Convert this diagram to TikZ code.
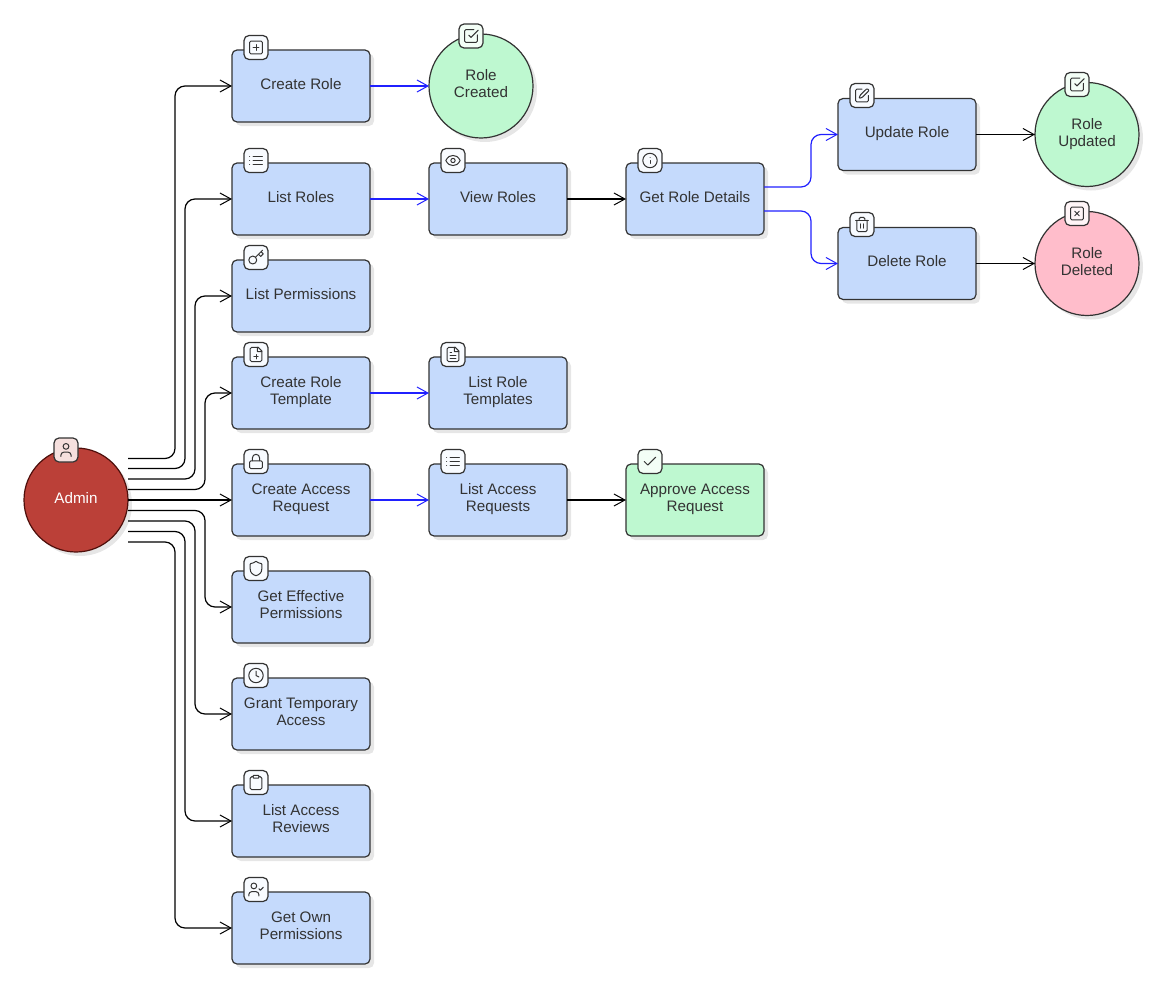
\documentclass[tikz,border=0pt]{standalone}
\usepackage{fontspec}
\setmainfont{Liberation Sans}
\usetikzlibrary{arrows.meta,shadows,calc}
\definecolor{ink}{HTML}{333333}
\definecolor{boxblue}{HTML}{C5DAFC}
\definecolor{okgreen}{HTML}{BEF8D0}
\definecolor{badpink}{HTML}{FFBDCB}
\definecolor{adminred}{HTML}{BB4038}
\definecolor{adminedge}{HTML}{4E0F0B}
\definecolor{flowblue}{HTML}{2020FF}
\definecolor{shadowgrey}{HTML}{E6E6E6}
\newcommand\lbl[1]{\raisebox{1.5pt}{\begin{tabular}{@{}c@{}}#1\end{tabular}}}
\tikzset{
  softshadow/.style={drop shadow={shadow xshift=4pt,shadow yshift=-4pt,fill=shadowgrey,opacity=1}},
  stepbox/.style={rectangle,rounded corners=5pt,draw=ink,line width=1.2pt,fill=boxblue,text=ink,minimum width=138pt,minimum height=72pt,inner sep=0pt,outer sep=0pt,softshadow,font=\fontsize{15.2}{17}\selectfont},
  okbox/.style={stepbox,fill=okgreen},
  endcircle/.style={circle,draw=ink,line width=1.2pt,text=ink,minimum size=104pt,inner sep=0pt,outer sep=0pt,softshadow,font=\fontsize{15.2}{17}\selectfont},
  admincircle/.style={endcircle,fill=adminred,draw=adminedge,text=white},
  flow/.style={draw=black,line width=1.2pt,rounded corners=10pt,-{Straight Barb[length=11pt,width=12pt,line width=1pt]}},
  blueflow/.style={flow,draw=flowblue},
  badge/.style={rectangle,rounded corners=5pt,draw=ink,line width=1.2pt,minimum size=24pt,inner sep=0pt,outer sep=0pt},
  iconline/.style={draw=ink,line width=1pt,line cap=round,line join=round,fill=none},
}
\newcommand\icn[2]{\begin{scope}[shift={(#1)},x=.72pt,y=-.72pt,shift={(-12,-12)},iconline]#2\end{scope}}
\newcommand\rr[5]{\draw[rounded corners=#5*.72pt] (#1,#2) rectangle (#3,#4);}
\newcommand\icsqplus{\rr{3}{3}{21}{21}{2}\draw (8,12)--(16,12) (12,8)--(12,16);}
\newcommand\iclist{\draw (8,6)--(21,6) (8,12)--(21,12) (8,18)--(21,18) (3,6)--(3.01,6) (3,12)--(3.01,12) (3,18)--(3.01,18);}
\newcommand\ickey{\draw (7.5,15.5) circle[radius=5.5]; \draw (21,2)--(11.4,11.6) (15.5,7.5)--(18.5,10.5)--(22,7)--(19,4);}
\newcommand\icfile{\draw[rounded corners=1.44pt] (15,2)--(4,2)--(4,22)--(20,22)--(20,7); \draw (15,2)--(20,7) (14,2)--(14,8)--(20,8);}
\newcommand\icfileplus{\icfile\draw (9,15)--(15,15) (12,18)--(12,12);}
\newcommand\icfiletext{\icfile\draw (10,9)--(8,9) (16,13)--(8,13) (16,17)--(8,17);}
\newcommand\iclock{\rr{3}{11}{21}{22}{2}\draw (7,11)--(7,7) arc[start angle=180,end angle=360,radius=5]--(17,11);}
\newcommand\icshield{\draw (20,13) .. controls (20,18) and (16.5,20.5) .. (12,22) .. controls (7.5,20.5) and (4,18) .. (4,13) -- (4,6) .. controls (4,5.4) and (4.4,5) .. (5,5) .. controls (7,5) and (9.5,3.8) .. (12,2) .. controls (14.5,3.8) and (17,5) .. (19,5) .. controls (19.6,5) and (20,5.4) .. (20,6) -- cycle;}
\newcommand\icclock{\draw (12,12) circle[radius=10]; \draw (12,6)--(12,12)--(16,14);}
\newcommand\icclip{\rr{8}{2}{16}{6}{1}\draw[rounded corners=1.44pt] (16,4)--(20,4)--(20,22)--(4,22)--(4,4)--(8,4);}
\newcommand\icusercheck{\draw (16,21)--(16,19) arc[start angle=0,end angle=-90,radius=4]--(6,15) arc[start angle=-90,end angle=-180,radius=4]--(2,21); \draw (9,7) circle[radius=4]; \draw (16,11)--(18,13)--(22,9);}
\newcommand\iceye{\draw (2,12) .. controls (5,6.5) and (8,5) .. (12,5) .. controls (16,5) and (19,6.5) .. (22,12) .. controls (19,17.5) and (16,19) .. (12,19) .. controls (8,19) and (5,17.5) .. (2,12) -- cycle; \draw (12,12) circle[radius=3];}
\newcommand\icinfo{\draw (12,12) circle[radius=10]; \draw (12,16)--(12,12) (12,8)--(12.01,8);}
\newcommand\icpen{\draw[rounded corners=1.44pt] (12,3)--(3,3)--(3,21)--(21,21)--(21,12); \draw[rounded corners=.8pt] (19,2.2)--(21.8,5)--(12.4,14.6)--(8,16)--(9.4,11.6)--cycle;}
\newcommand\ictrash{\draw (3,6)--(21,6); \draw[rounded corners=1.44pt] (19,6)--(19,22)--(5,22)--(5,6); \draw[rounded corners=1.44pt] (8,6)--(8,2)--(16,2)--(16,6); \draw (10,11)--(10,17) (14,11)--(14,17);}
\newcommand\icsqcheck{\draw[rounded corners=1.44pt] (21,10.5)--(21,21)--(3,21)--(3,3)--(16,3); \draw (9,11)--(12,14)--(22,4);}
\newcommand\icsqx{\rr{3}{3}{21}{21}{2}\draw (15,9)--(9,15) (9,9)--(15,15);}
\newcommand\iccheck{\draw (20,6)--(9,17)--(4,12);}
\newcommand\icuser{\draw (19,21)--(19,19) arc[start angle=0,end angle=-90,radius=4]--(9,15) arc[start angle=-90,end angle=-180,radius=4]--(5,21); \draw (12,7) circle[radius=4];}
\begin{document}
\begin{tikzpicture}[x=1pt,y=-1pt]
\useasboundingbox (0,0) rectangle (1165,982);
% nodes
\node[admincircle] (admin) at (76,500) {\lbl{Admin}};
\node[stepbox] (createrole) at (301,86) {\lbl{Create Role}};
\node[endcircle,fill=okgreen] (rolecreated) at (481,86) {\lbl{Role\\Created}};
\node[stepbox] (listroles) at (301,199) {\lbl{List Roles}};
\node[stepbox] (viewroles) at (498,199) {\lbl{View Roles}};
\node[stepbox] (details) at (695,199) {\lbl{Get Role Details}};
\node[stepbox] (update) at (907,134.5) {\lbl{Update Role}};
\node[stepbox] (delete) at (907,263.5) {\lbl{Delete Role}};
\node[endcircle,fill=okgreen] (updated) at (1087,134.5) {\lbl{Role\\Updated}};
\node[endcircle,fill=badpink] (deleted) at (1087,263.5) {\lbl{Role\\Deleted}};
\node[stepbox] (listperms) at (301,296) {\lbl{List Permissions}};
\node[stepbox] (template) at (301,393) {\lbl{Create Role\\Template}};
\node[stepbox] (listtemplates) at (498,393) {\lbl{List Role\\Templates}};
\node[stepbox] (accessreq) at (301,500) {\lbl{Create Access\\Request}};
\node[stepbox] (listreq) at (498,500) {\lbl{List Access\\Requests}};
\node[okbox] (approve) at (695,500) {\lbl{Approve Access\\Request}};
\node[stepbox] (effective) at (301,607) {\lbl{Get Effective\\Permissions}};
\node[stepbox] (temporary) at (301,714) {\lbl{Grant Temporary\\Access}};
\node[stepbox] (reviews) at (301,821) {\lbl{List Access\\Reviews}};
\node[stepbox] (ownperms) at (301,928) {\lbl{Get Own\\Permissions}};
% connectors from Admin
\draw[flow] ([yshift=41.5pt]admin.east) -| (175,300) |- (createrole.west);
\draw[flow] ([yshift=31.5pt]admin.east) -| (185,300) |- (listroles.west);
\draw[flow] ([yshift=21pt]admin.east) -| (195,400) |- (listperms.west);
\draw[flow] ([yshift=10.5pt]admin.east) -| (205,440) |- (template.west);
\draw[flow] (admin.east) -- (accessreq.west);
\draw[flow] ([yshift=-10.5pt]admin.east) -| (205,560) |- (effective.west);
\draw[flow] ([yshift=-21pt]admin.east) -| (195,620) |- (temporary.west);
\draw[flow] ([yshift=-31.5pt]admin.east) -| (185,680) |- (reviews.west);
\draw[flow] ([yshift=-42pt]admin.east) -| (175,740) |- (ownperms.west);
% other connectors
\draw[blueflow] (createrole) -- (rolecreated);
\draw[blueflow] (listroles) -- (viewroles);
\draw[flow] (viewroles) -- (details);
\draw[blueflow] ([yshift=12pt]details.east) -| (811,160) |- (update.west);
\draw[blueflow] ([yshift=-12pt]details.east) -| (811,240) |- (delete.west);
\draw[flow] (update) -- (updated);
\draw[flow] (delete) -- (deleted);
\draw[blueflow] (template) -- (listtemplates);
\draw[blueflow] (accessreq) -- (listreq);
\draw[flow] (listreq) -- (approve);
% icon badges
\tikzset{bb/.style={badge,fill=#1},bb/.default={bbadge}}
\definecolor{bbadge}{HTML}{F8FBFF}
\definecolor{gbadge}{HTML}{F3FEF6}
\definecolor{pbadge}{HTML}{FFF5F7}
\definecolor{rbadge}{HTML}{F6E0DE}
\node[bb=rbadge] (b0) at (66,450) {}; \icn{b0}{\icuser}
\node[bb] (b1) at (256,47.5) {}; \icn{b1}{\icsqplus}
\node[bb=gbadge] (b2) at (471,36) {}; \icn{b2}{\icsqcheck}
\node[bb] (b3) at (256,160.5) {}; \icn{b3}{\iclist}
\node[bb] (b4) at (453,160.5) {}; \icn{b4}{\iceye}
\node[bb] (b5) at (650,160.5) {}; \icn{b5}{\icinfo}
\node[bb] (b6) at (862,95.5) {}; \icn{b6}{\icpen}
\node[bb] (b7) at (862,224.5) {}; \icn{b7}{\ictrash}
\node[bb=gbadge] (b8) at (1077,84.5) {}; \icn{b8}{\icsqcheck}
\node[bb=pbadge] (b9) at (1077,213.5) {}; \icn{b9}{\icsqx}
\node[bb] (b10) at (256,257.5) {}; \icn{b10}{\ickey}
\node[bb] (b11) at (256,354.5) {}; \icn{b11}{\icfileplus}
\node[bb] (b12) at (453,354.5) {}; \icn{b12}{\icfiletext}
\node[bb] (b13) at (256,461.5) {}; \icn{b13}{\iclock}
\node[bb] (b14) at (453,461.5) {}; \icn{b14}{\iclist}
\node[bb=gbadge] (b15) at (650,461.5) {}; \icn{b15}{\iccheck}
\node[bb] (b16) at (256,568.5) {}; \icn{b16}{\icshield}
\node[bb] (b17) at (256,675.5) {}; \icn{b17}{\icclock}
\node[bb] (b18) at (256,782.5) {}; \icn{b18}{\icclip}
\node[bb] (b19) at (256,889.5) {}; \icn{b19}{\icusercheck}
\end{tikzpicture}
\end{document}
